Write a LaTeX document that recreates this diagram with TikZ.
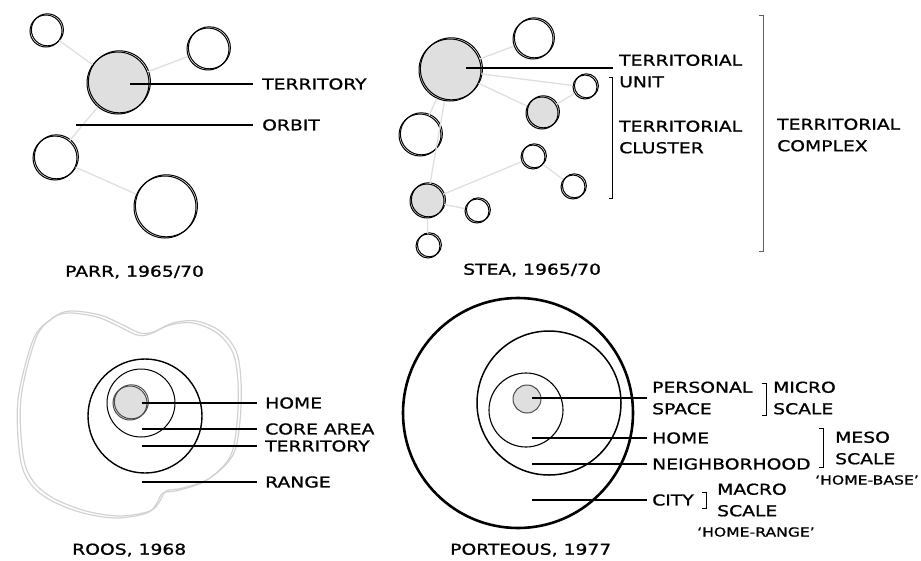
\documentclass[tikz,border=0pt]{standalone}
\usepackage{fontspec}
\newfontfamily\hand[FakeStretch=1.25, FakeBold=1]{DejaVu Sans}
\usetikzlibrary{calc}

\begin{document}
\begin{tikzpicture}[x=1pt, y=-1pt,
    ring/.style={circle, draw, line width=1pt, inner sep=0pt, minimum size=#1},
    sketchy/.style={postaction={draw, transform canvas={shift={(1.4pt,1.2pt)}}}},
    link/.style={gray!25, line width=1.3pt},
    lead/.style={line width=1.3pt, shorten >=#1},
    lead/.default=9pt,
    brk/.style={line width=1pt},
    lbl/.style={anchor=west, inner sep=0pt, align=left, font=\hand\fontsize{15}{21.5}\selectfont},
    tag/.style={anchor=west, inner sep=0pt, font=\hand\fontsize{12.5}{14}\selectfont},
    blob/.style={gray!35, line width=1.2pt}]
    \useasboundingbox (0,0) rectangle (921,560);

    % Parr
    \foreach \n/\x/\y/\d/\f in {pa/46/31/32/white, pb/208/49/42/white, pc/118/83/62/gray!25, pd/55/158/44/white, pe/165/207/62/white}
        \node[ring=\d pt, sketchy, fill=\f] (\n) at (\x,\y) {};
    \draw[link] (pa) -- (pc) (pc) -- (pb) (pc) -- (pd) (pd) -- (pe);

    \coordinate (pt) at (130,84);
    \coordinate (po) at (76,125);
    \node[lbl] (territory) at (262,84) {TERRITORY};
    \node[lbl] (orbit) at (262,125) {ORBIT};
    \draw[lead] (pt) -- (pt -| territory.west);
    \draw[lead] (po) -- (po -| orbit.west);
    \node[lbl] (parr) at (65,272) {PARR, 1965/70};

    % Stea
    \foreach \n/\x/\y/\d/\f in {sa/450/70/62/gray!25, sb/533/39/40/white, sc/585/87/24/white, sd/542/113/32/gray!25, se/420/135/42/white,
        sf/533/157/24/white, sg/573/187/24/white, sh/427/201/34/gray!25, si/477/211/24/white, sj/428/246/24/white}
        \node[ring=\d pt, sketchy, fill=\f] (\n) at (\x,\y) {};
    \draw[link] (sa) -- (sb) (sa) -- (sc) (sa) -- (sd) (sd) -- (sc) (sa) -- (se) (sa) -- (sh)
        (sh) -- (sf) (sf) -- (sg) (sh) -- (si) (sh) -- (sj);

    \coordinate (su) at (466,68);
    \node[lbl] (unit) at (619,71) {TERRITORIAL\\UNIT};
    \node[lbl] (cluster) at (619,137) {TERRITORIAL\\CLUSTER};
    \node[lbl] (complex) at (777,135) {TERRITORIAL\\COMPLEX};
    \draw[lead=6pt] (su) -- (su -| unit.west);
    \draw[brk] (609,77) -- (612,77) -- (612,198) -- (609,198);
    \draw[brk, gray!75!black] (759,15) -- (763,15) -- (763,251) -- (759,251);
    \node[lbl] (stea) at (463,270) {STEA, 1965/70};

    % Roos
    \foreach \dx/\dy in {0/0, 3/-2}
        \draw[blob, shift={(\dx,\dy)}] plot[smooth cycle, tension=0.55] coordinates {(18,400) (33,340) (50,320) (67,313) (97,317)
            (120,327) (137,335) (150,334) (170,325) (193,323) (217,333) (233,353) (238,383) (237,423) (230,457) (207,480)
            (180,490) (163,493) (157,503) (147,513) (117,518) (83,513) (50,500) (30,483) (20,457)};
    \node[ring=114pt, line width=1.4pt] (rter) at (145,416) {};
    \node[ring=68pt] (rcore) at (141,403) {};
    \node[ring=34pt, sketchy, fill=gray!25, draw=gray!60!black] (rhome) at (130,403) {};

    \foreach \n/\y/\t in {home/403/HOME, core/429/CORE AREA, terr/446/TERRITORY, range/482/RANGE} {
        \coordinate (r\n) at (142,\y);
        \node[lbl] (\n) at (265,\y) {\t};
        \draw[lead=8pt] (r\n) -- (r\n -| \n.west);
    }
    \node[lbl] (roos) at (72,550) {ROOS, 1968};

    % Porteous
    \node[ring=230pt, line width=2.6pt] (pcity) at (518,413) {};
    \node[ring=144pt, line width=1.5pt] (pnbh) at (549,403) {};
    \node[ring=74pt, line width=1.1pt] (phome) at (526,410) {};
    \node[ring=28pt, fill=gray!25, draw=gray!60!black] (ppers) at (527,399) {};

    \foreach \n/\y/\t in {personal/398/PERSONAL\\SPACE, home/438/HOME, neighborhood/464/NEIGHBORHOOD, city/500/CITY} {
        \coordinate (q\n) at (532,\y);
        \node[lbl] (q\n lbl) at (652,\y) {\t};
        \draw[lead=5pt] (q\n) -- (q\n -| q\n lbl.west);
    }
    \draw[brk] (762,383) -- (766,383) -- (766,415) -- (762,415);
    \node[lbl] (micro) at (773,398) {MICRO\\SCALE};
    \draw[brk] (819,428) -- (823,428) -- (823,467) -- (819,467);
    \node[lbl] (meso) at (835,448) {MESO\\SCALE};
    \node[tag] (homebase) at (815,480) {‘HOME-BASE’};
    \draw[brk] (702,492) -- (706,492) -- (706,508) -- (702,508);
    \node[lbl] (macro) at (717,500) {MACRO\\SCALE};
    \node[tag] (homerange) at (697,532) {‘HOME-RANGE’};
    \node[lbl] (porteous) at (450,550) {PORTEOUS, 1977};
\end{tikzpicture}
\end{document}
